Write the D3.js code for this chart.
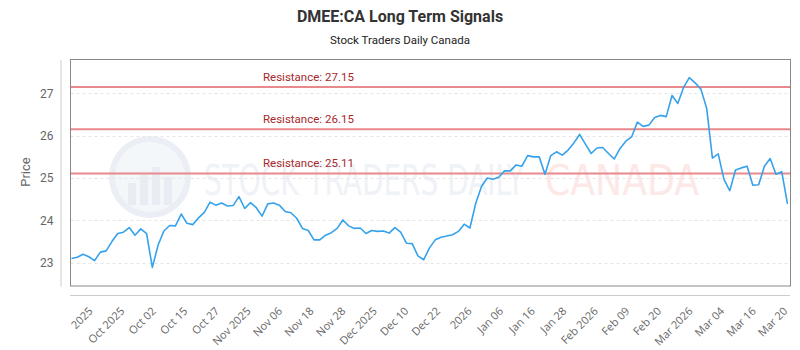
<!DOCTYPE html>
<html>
<head>
<meta charset="utf-8">
<script src="https://cdn.jsdelivr.net/npm/d3@7"></script>
<style>
  body { margin: 0; background: #fff; }
  svg { display: block; font-family: Roboto, "Open Sans", sans-serif; }
</style>
</head>
<body>
<div id="chart"></div>
<script>
// Chart size
const width = 800;
const height = 350;
const plot = {left: 70.5, right: 790.5, top: 59.5, bottom: 286};

// Closing prices (one per trading day)
const prices = [
  23.10, 23.13, 23.20, 23.14, 23.05, 23.25, 23.28, 23.50, 23.69, 23.72,
  23.83, 23.65, 23.80, 23.69, 22.89, 23.42, 23.75, 23.88, 23.87, 24.15,
  23.93, 23.90, 24.06, 24.19, 24.43, 24.36, 24.41, 24.34, 24.35, 24.56,
  24.28, 24.42, 24.30, 24.10, 24.39, 24.41, 24.36, 24.21, 24.18, 24.05,
  23.81, 23.76, 23.54, 23.54, 23.65, 23.71, 23.81, 24.01, 23.87, 23.81,
  23.82, 23.69, 23.76, 23.74, 23.75, 23.70, 23.83, 23.72, 23.46, 23.45,
  23.16, 23.07, 23.35, 23.54, 23.60, 23.63, 23.66, 23.74, 23.91, 23.82,
  24.40, 24.80, 25.00, 24.97, 25.02, 25.17, 25.17, 25.31, 25.28, 25.53,
  25.50, 25.50, 25.09, 25.53, 25.62, 25.54, 25.66, 25.83, 26.03, 25.80,
  25.58, 25.71, 25.72, 25.58, 25.45, 25.70, 25.87, 25.97, 26.32, 26.22,
  26.25, 26.43, 26.48, 26.45, 26.95, 26.76, 27.14, 27.37, 27.25, 27.10,
  26.65, 25.47, 25.57, 24.97, 24.70, 25.19, 25.24, 25.28, 24.83, 24.84,
  25.28, 25.46, 25.09, 25.15, 24.39
];

// x tick labels as shown under the chart
const tickLabels = [
  "2025", "Oct 2025", "Oct 02", "Oct 15", "Oct 27", "Nov 2025", "Nov 06",
  "Nov 18", "Nov 28", "Dec 2025", "Dec 10", "Dec 22", "2026", "Jan 06",
  "Jan 16", "Jan 28", "Feb 2026", "Feb 09", "Feb 20", "Mar 2026", "Mar 04",
  "Mar 16", "Mar 20"
];
// first and last labelled trading day (index into prices)
const tickSpan = [3.5, 123.8];

const yTicks = [23, 24, 25, 26, 27];
const resistance = [27.15, 26.15, 25.11];

const svg = d3.select("#chart")
  .append("svg")
  .attr("width", width)
  .attr("height", height);

// Scales
const x = d3.scaleLinear()
  .domain([0, prices.length - 1])
  .range([71.5, 787.5]);

const y = d3.scaleLinear()
  .domain([22.45, 27.8])
  .range([plot.bottom, plot.top]);

// Title + subtitle
svg.append("text")
  .attr("x", 400).attr("y", 22)
  .attr("text-anchor", "middle")
  .attr("font-size", 16).attr("font-weight", "bold")
  .attr("fill", "#333")
  .text("DMEE:CA Long Term Signals");

svg.append("text")
  .attr("x", 400).attr("y", 44)
  .attr("text-anchor", "middle")
  .attr("font-size", 11.5)
  .attr("fill", "#222")
  .text("Stock Traders Daily Canada");

/*
  Watermark
*/
const wm = svg.append("g");
wm.append("circle")
  .attr("cx", 150).attr("cy", 177).attr("r", 38)
  .attr("fill", "#f4f7fa")
  .attr("stroke", "#ebeff5").attr("stroke-width", 6);
[[128, 22], [140, 30], [152, 38], [164, 28]].forEach(b => {
  wm.append("rect")
    .attr("x", b[0]).attr("y", 205 - b[1])
    .attr("width", 8).attr("height", b[1])
    .attr("fill", "#e8edf4");
});
wm.append("text")
  .attr("x", 204).attr("y", 195)
  .attr("font-family", "'DejaVu Sans Condensed', 'DejaVu Sans'")
  .attr("font-size", 42)
  .attr("textLength", 320).attr("lengthAdjust", "spacingAndGlyphs")
  .attr("fill", "#eff2f7")
  .text("STOCK TRADERS DAILY");
wm.append("text")
  .attr("x", 545).attr("y", 195)
  .attr("font-family", "'DejaVu Sans Condensed', 'DejaVu Sans'")
  .attr("font-size", 42)
  .attr("textLength", 154).attr("lengthAdjust", "spacingAndGlyphs")
  .attr("fill", "#fde8e8")
  .text("CANADA");

/*
  Axes
*/

// dashed grid lines
svg.append("g")
  .selectAll("line")
  .data(yTicks)
  .enter()
  .append("line")
  .attr("x1", plot.left).attr("x2", plot.right)
  .attr("y1", d => Math.round(y(d)) + 0.5)
  .attr("y2", d => Math.round(y(d)) + 0.5)
  .attr("stroke", "#e6e6e6")
  .attr("stroke-dasharray", "3,3");

// y axis, sits left of the plot box
const yAxis = svg.append("g")
  .attr("transform", "translate(60.5,0)")
  .call(d3.axisLeft(y)
    .tickValues(yTicks)
    .tickFormat(d3.format("d"))
    .tickSize(0).tickSizeOuter(0).tickPadding(7));
yAxis.select(".domain").attr("stroke", "#ccc");
yAxis.selectAll("text")
  .attr("font-size", 12)
  .attr("fill", "#666")
  .attr("font-family", "Roboto, sans-serif");

svg.append("text")
  .attr("transform", "translate(30,172) rotate(-90)")
  .attr("text-anchor", "middle")
  .attr("font-size", 13)
  .attr("fill", "#666")
  .text("Price");

// x axis, sits under the plot box
const tickScale = d3.scaleLinear()
  .domain([0, tickLabels.length - 1])
  .range(tickSpan);
const tickIdx = tickLabels.map((d, i) => tickScale(i));

const xAxis = svg.append("g")
  .attr("transform", "translate(0,295.5)")
  .call(d3.axisBottom(x)
    .tickValues(tickIdx)
    .tickFormat((d, i) => tickLabels[i])
    .tickSize(0)
    .tickSizeOuter(0));
xAxis.select(".domain")
  .attr("d", "M70,0H790")
  .attr("stroke", "#ccc");
xAxis.selectAll("text")
  .attr("font-size", 11)
  .attr("fill", "#666")
  .attr("font-family", "'Open Sans', sans-serif")
  .attr("text-anchor", "end")
  .attr("dy", "0.3em")
  .attr("y", 0)
  .attr("transform", "translate(-1,14) rotate(-45)");

// plot frame
svg.append("rect")
  .attr("x", plot.left).attr("y", plot.top)
  .attr("width", plot.right - plot.left)
  .attr("height", plot.bottom - plot.top)
  .attr("fill", "none")
  .attr("stroke", "#888");

/*
  Resistance levels
*/
svg.append("g")
  .selectAll("line")
  .data(resistance)
  .enter()
  .append("line")
  .attr("x1", plot.left + 0.5).attr("x2", plot.right - 0.5)
  .attr("y1", d => y(d)).attr("y2", d => y(d))
  .attr("stroke", "#e8898c")
  .attr("stroke-width", 2);

svg.append("g")
  .selectAll("text")
  .data(resistance)
  .enter()
  .append("text")
  .attr("x", 263)
  .attr("y", d => y(d) - 6)
  .attr("font-size", 11.5)
  .attr("fill", "#a8282b")
  .text(d => "Resistance: " + d.toFixed(2));

/*
  Price line
*/
const line = d3.line()
  .x((d, i) => x(i))
  .y(d => y(d));

svg.append("path")
  .datum(prices)
  .attr("d", line)
  .attr("fill", "none")
  .attr("stroke", "#36a2eb")
  .attr("stroke-width", 1.6)
  .attr("stroke-linejoin", "round");
</script>
</body>
</html>
